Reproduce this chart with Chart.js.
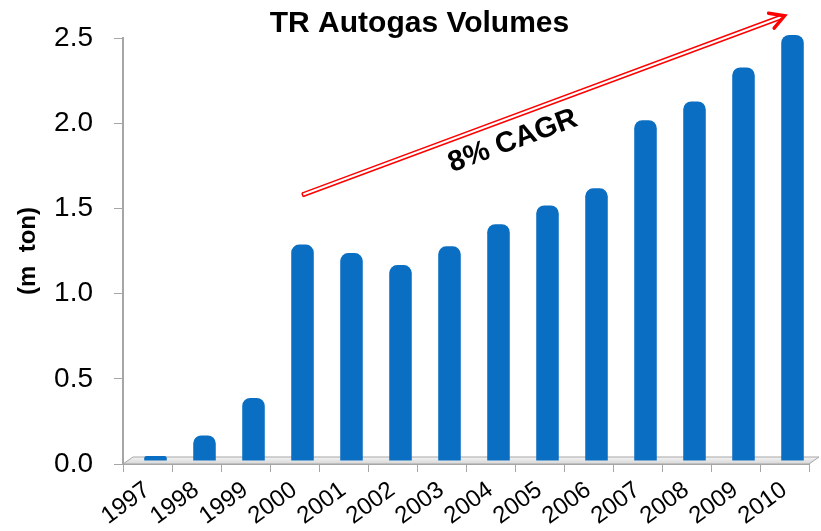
<!DOCTYPE html>
<html>
<head>
<meta charset="utf-8">
<script src="https://cdn.jsdelivr.net/npm/chart.js@4"></script>
<style>
  html, body { margin: 0; padding: 0; background: #fff; }
  #wrap { width: 821px; height: 531px; }
</style>
</head>
<body>
<div id="wrap"><canvas id="grafico"></canvas></div>
<script>
const years = ["1997","1998","1999","2000","2001","2002","2003","2004","2005","2006","2007","2008","2009","2010"]
const volumes = [0.03, 0.15, 0.37, 1.27, 1.22, 1.15, 1.26, 1.39, 1.50, 1.60, 2.00, 2.11, 2.31, 2.50]
const yTicks = [0.0, 0.5, 1.0, 1.5, 2.0, 2.5]
const cagrLabel = "8% CAGR"
// arrow runs from 2000 to 2010, at these axis values
const arrowFrom = { year: "2000", value: 1.58 }
const arrowTo = { year: "2010", value: 2.63 }

const graph = document.getElementById("grafico")
const fontFam = "Arial, 'Liberation Sans', sans-serif"
// fake 3d: bars stand on the floor, a bit behind the front axis
const depth = { x: 8, y: 3 }

// bar fill: lighter on the left, darker on the right edge
const barFill = (ctx) => {
  const el = ctx.element
  if (!el || el.width === undefined) return "#0A6FC2"
  const c = ctx.chart.ctx
  const left = el.x - el.width / 2
  const g = c.createLinearGradient(left, 0, left + el.width, 0)
  g.addColorStop(0, "#1378CC")
  g.addColorStop(0.6, "#0A6CBE")
  g.addColorStop(1, "#064C8C")
  return g
}

const extras = {
  id: "extras",
  beforeDatasetsDraw(chart) {
    const { ctx, chartArea, scales } = chart
    const y0 = scales.y.getPixelForValue(0)
    // floor
    ctx.save()
    const g = ctx.createLinearGradient(0, y0 - 7, 0, y0)
    g.addColorStop(0, "#F4F4F4")
    g.addColorStop(1, "#D6D6D6")
    ctx.fillStyle = g
    ctx.strokeStyle = "#A6A6A6"
    ctx.lineWidth = 1
    ctx.beginPath()
    ctx.moveTo(chartArea.left, y0)
    ctx.lineTo(chartArea.left + 10, y0 - 7)
    ctx.lineTo(chartArea.right + 10, y0 - 7)
    ctx.lineTo(chartArea.right, y0)
    ctx.closePath()
    ctx.fill()
    ctx.stroke()
    ctx.restore()
    // shift the bars back onto the floor
    ctx.save()
    ctx.translate(depth.x, -depth.y)
  },
  afterDatasetsDraw(chart) {
    const { ctx, scales } = chart
    ctx.restore()
    const x1 = scales.x.getPixelForValue(years.indexOf(arrowFrom.year)) + depth.x
    const y1 = scales.y.getPixelForValue(arrowFrom.value)
    const x2 = scales.x.getPixelForValue(years.indexOf(arrowTo.year)) + depth.x - 8
    const y2 = scales.y.getPixelForValue(arrowTo.value)
    const ang = Math.atan2(y2 - y1, x2 - x1)
    ctx.save()
    ctx.translate(x1, y1)
    ctx.rotate(ang)
    const len = Math.hypot(x2 - x1, y2 - y1)
    ctx.strokeStyle = "#FF0000"
    ctx.lineWidth = 1.5
    ctx.beginPath()
    ctx.moveTo(0, -1.8); ctx.lineTo(len - 4, -1.8)
    ctx.moveTo(0, 1.8); ctx.lineTo(len - 4, 1.8)
    ctx.moveTo(0, -1.8); ctx.lineTo(0, 1.8)
    ctx.stroke()
    ctx.lineWidth = 3.5
    ctx.lineCap = "round"
    ctx.beginPath()
    ctx.moveTo(len - 14, -8); ctx.lineTo(len, 0); ctx.lineTo(len - 14, 8)
    ctx.stroke()
    // label under the arrow
    ctx.fillStyle = "#000"
    ctx.font = "bold 29px " + fontFam
    ctx.textAlign = "center"
    ctx.textBaseline = "middle"
    ctx.translate(len * 0.42, 23)
    ctx.fillText(cagrLabel, 0, 0)
    ctx.restore()
  }
}

new Chart(graph, {
  type: "bar",
  data: {
    labels: years,
    datasets: [{
      label: "TR Autogas Volumes",
      data: volumes,
      backgroundColor: barFill,
      borderWidth: 0,
      borderRadius: { topLeft: 8, topRight: 8 },
      borderSkipped: "bottom",
      barPercentage: 0.46,
      categoryPercentage: 1
    }]
  },
  plugins: [extras],
  options: {
    responsive: true,
    maintainAspectRatio: false,
    animation: false,
    layout: { padding: { top: 0, right: 12, left: 30, bottom: 0 } },
    plugins: {
      legend: { display: false },
      tooltip: { enabled: false },
      title: {
        display: true,
        text: "TR Autogas Volumes",
        color: "#000",
        font: { family: fontFam, size: 30, weight: "bold", lineHeight: 1 },
        padding: { top: 9, bottom: -1 }
      }
    },
    scales: {
      x: {
        offset: true,
        afterFit: (axis) => { axis.height = 67 },
        grid: { display: true, drawOnChartArea: false, offset: true, color: "#A6A6A6", tickLength: 8 },
        border: { display: true, color: "#A6A6A6", width: 2 },
        ticks: {
          color: "#000",
          font: { family: fontFam, size: 24 },
          minRotation: 36,
          maxRotation: 36,
          autoSkip: false,
          padding: 4
        }
      },
      y: {
        min: 0,
        max: 2.5,
        afterFit: (axis) => { axis.width = 93 },
        afterBuildTicks: (axis) => { axis.ticks = yTicks.map(v => ({ value: v })) },
        grid: { display: true, drawOnChartArea: false, color: "#A6A6A6", tickLength: 9 },
        border: { display: true, color: "#A6A6A6", width: 2 },
        ticks: {
          color: "#000",
          font: { family: fontFam, size: 28 },
          padding: 21,
          callback: (v) => Number(v).toFixed(1)
        },
        title: {
          display: true,
          text: "(m  ton)",
          color: "#000",
          font: { family: fontFam, size: 24, weight: "bold" },
          padding: { top: -16, bottom: 6 }
        }
      }
    }
  }
})
</script>
</body>
</html>
